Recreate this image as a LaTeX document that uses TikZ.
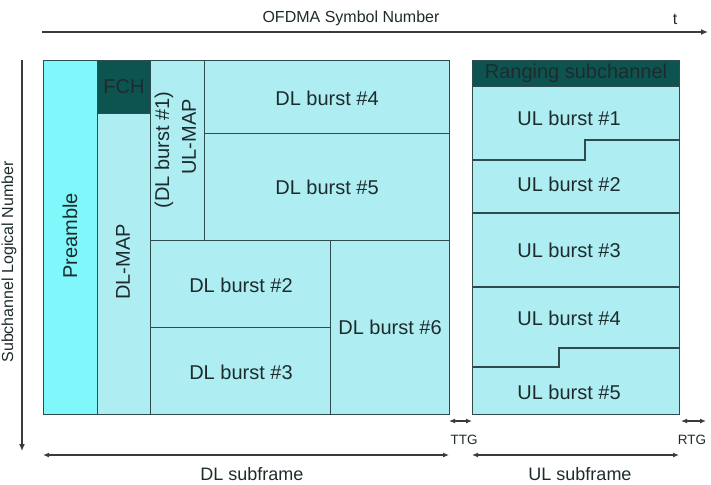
\documentclass[tikz,border=0pt]{standalone}
\usepackage{fontspec}
\setmainfont{Liberation Sans}
\usetikzlibrary{arrows.meta}
\definecolor{cellfill}{HTML}{AEEEF3}
\definecolor{prefill}{HTML}{80F7FA}
\definecolor{darkteal}{HTML}{0D5450}
\definecolor{edgec}{HTML}{2E4B4D}
\definecolor{txt}{HTML}{1E2B2C}
\definecolor{axisc}{HTML}{3A3A3A}
\begin{document}
\begin{tikzpicture}[x=1pt,y=-1pt,
  cell/.style={draw=edgec, line width=1.3pt, fill=cellfill, inner sep=0pt, anchor=north west},
  lbl/.style={text=txt, font=\fontsize{20}{22}\selectfont, inner sep=0pt},
  small/.style={text=txt, font=\fontsize{16}{18}\selectfont, inner sep=0pt},
  sub/.style={text=txt, font=\fontsize{18}{20}\selectfont, inner sep=0pt},
  tiny/.style={text=txt, font=\fontsize{13.5}{15}\selectfont, inner sep=0pt},
  axis/.style={draw=axisc, line width=1.5pt, -{Latex[length=7pt,width=6pt]}},
  span/.style={draw=axisc, line width=1.5pt, {Latex[length=6pt,width=5pt]}-{Latex[length=6pt,width=5pt]}}]
\useasboundingbox (0,0) rectangle (711,484);
% DL subframe
\node[cell, fill=prefill, minimum width=54pt, minimum height=354pt] (pre) at (43,60) {};
\node[cell, fill=darkteal, minimum width=53pt, minimum height=53pt] (fch) at (97,60) {};
\node[cell, minimum width=53pt, minimum height=301pt] (dlmap) at (97,113) {};
\node[cell, minimum width=54pt, minimum height=180pt] (ulmap) at (150,60) {};
\node[cell, minimum width=245pt, minimum height=73pt] (b4) at (204,60) {};
\node[cell, minimum width=245pt, minimum height=107pt] (b5) at (204,133) {};
\node[cell, minimum width=180pt, minimum height=87pt] (b2) at (150,240) {};
\node[cell, minimum width=180pt, minimum height=87pt] (b3) at (150,327) {};
\node[cell, minimum width=119pt, minimum height=174pt] (b6) at (330,240) {};
% UL subframe
\node[cell, minimum width=207pt, minimum height=354pt] (ul) at (472,60) {};
\node[cell, fill=darkteal, minimum width=207pt, minimum height=26pt] (rng) at (472,60) {};
\draw[edgec, line width=1.3pt] (472,160) -- (585,160) -- (585,140) -- (679,140);
\draw[edgec, line width=1.3pt] (472,213) -- (679,213);
\draw[edgec, line width=1.3pt] (472,287) -- (679,287);
\draw[edgec, line width=1.3pt] (472,367) -- (559,367) -- (559,348) -- (679,348);
% labels
\node[lbl, rotate=90] (tpre) at (70,236) {Preamble};
\node[lbl] (tfch) at (124,87) {FCH};
\node[lbl, rotate=90] (tdlmap) at (123,262) {DL-MAP};
\node[lbl, rotate=90] (tb1) at (164,150) {(DL burst \#1)};
\node[lbl, rotate=90] (tulmap) at (189,137) {UL-MAP};
\node[lbl] (tb4) at (327,98) {DL burst \#4};
\node[lbl] (tb5) at (327,187) {DL burst \#5};
\node[lbl] (tb2) at (241,285) {DL burst \#2};
\node[lbl] (tb3) at (241,372) {DL burst \#3};
\node[lbl] (tb6) at (390,327) {DL burst \#6};
\node[lbl] (trng) at (576,73) {Ranging subchannel};
\node[lbl] (tu1) at (569,118) {UL burst \#1};
\node[lbl] (tu2) at (569,184) {UL burst \#2};
\node[lbl] (tu3) at (569,250) {UL burst \#3};
\node[lbl] (tu4) at (569,318) {UL burst \#4};
\node[lbl] (tu5) at (569,392) {UL burst \#5};
% axes
\coordinate (tx0) at (42,32);
\coordinate (tx1) at (708,32);
\draw[axis] (tx0) -- (tx1);
\node[small] (tofdma) at (351,18) {OFDMA Symbol Number};
\node[small] (tt) at (675,19) {t};
\coordinate (vy0) at (22,60);
\coordinate (vy1) at (22,451);
\draw[axis] (vy0) -- (vy1);
\node[small, rotate=90] (tsub) at (9,262) {Subchannel Logical Number};
% spans
\coordinate (ttg0) at (449,421);
\coordinate (ttg1) at (472,421);
\draw[span] (ttg0) -- (ttg1);
\node[tiny] (tttg) at (464,440) {TTG};
\coordinate (rtg0) at (681,421);
\coordinate (rtg1) at (706,421);
\draw[span] (rtg0) -- (rtg1);
\node[tiny] (trtg) at (692,440) {RTG};
\coordinate (dl0) at (43,455);
\coordinate (dl1) at (449,455);
\draw[span] (dl0) -- (dl1);
\node[sub] (tdl) at (252,474) {DL subframe};
\coordinate (ul0) at (472,455);
\coordinate (ul1) at (679,455);
\draw[span] (ul0) -- (ul1);
\node[sub] (tul) at (580,474) {UL subframe};
\end{tikzpicture}
\end{document}
